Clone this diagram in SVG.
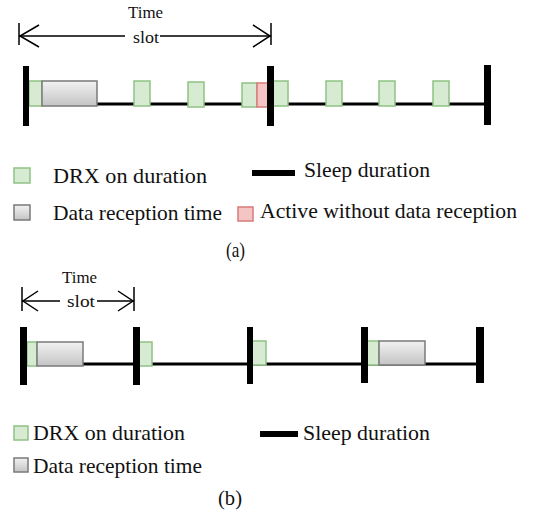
<svg xmlns="http://www.w3.org/2000/svg" width="534" height="515" viewBox="0 0 534 515">
<defs>
<linearGradient id="gg" x1="0" y1="0" x2="0" y2="1">
<stop offset="0" stop-color="#f2f2f2"/>
<stop offset="1" stop-color="#c4c4c4"/>
</linearGradient>
<style>
text{font-family:"Liberation Serif","DejaVu Serif","Times New Roman",serif;fill:#111}
.lg{font-size:21px}
.sm{font-size:17px}
.on{fill:#d6ebd2;stroke:#8fc283;stroke-width:1.5}
.dat{fill:url(#gg);stroke:#7a7a7a;stroke-width:1.5}
.act{fill:#f5c4c4;stroke:#d97b7b;stroke-width:1.5}
.bar{fill:#000}
.sl{stroke:#000;stroke-width:3;fill:none}
.ar{stroke:#000;stroke-width:1.5;fill:none}
</style>
</defs>
<rect width="534" height="515" fill="#fff"/>

<g id="slot-a">
<path class="ar" d="M19,23V45M271,23V45M19,36H125M160,36H271"/>
<polyline class="ar" points="39,25 20,36 39,47"/>
<polyline class="ar" points="253,25 270,36 253,47"/>
<text class="sm" font-family="Liberation Serif, serif" x="128" y="18" textLength="35" lengthAdjust="spacingAndGlyphs">Time</text>
<text class="sm" font-family="Liberation Serif, serif" x="133" y="43" textLength="26" lengthAdjust="spacingAndGlyphs">slot</text>
</g>

<g id="timeline-a">
<line class="sl" x1="26" y1="104" x2="487" y2="104"/>
<rect class="on" x="29" y="81" width="13" height="25"/>
<rect class="dat" x="42" y="81" width="55" height="25"/>
<rect class="on" x="134" y="81" width="16" height="25"/>
<rect class="on" x="188" y="82" width="16" height="25"/>
<rect class="on" x="242" y="83" width="15" height="24"/>
<rect class="act" x="257" y="83" width="12" height="24"/>
<rect class="on" x="272" y="81" width="16" height="25"/>
<rect class="on" x="326" y="81" width="16" height="25"/>
<rect class="on" x="379" y="81" width="16" height="25"/>
<rect class="on" x="433" y="81" width="16" height="25"/>
<rect class="bar" x="23" y="66" width="6" height="60"/>
<rect class="bar" x="267" y="66" width="7" height="60"/>
<rect class="bar" x="484" y="65" width="7" height="60"/>
</g>

<g id="legend-a">
<rect class="on" x="14" y="168" width="16" height="15"/>
<text class="lg" font-family="Liberation Serif, serif" x="53" y="183" textLength="154" lengthAdjust="spacingAndGlyphs">DRX on duration</text>
<rect class="bar" x="252" y="170" width="43" height="6"/>
<text class="lg" font-family="Liberation Serif, serif" x="304" y="177" textLength="126" lengthAdjust="spacingAndGlyphs">Sleep duration</text>
<rect class="dat" x="14" y="205" width="16" height="15"/>
<text class="lg" font-family="Liberation Serif, serif" x="53" y="220" textLength="169" lengthAdjust="spacingAndGlyphs">Data reception time</text>
<rect class="act" x="238" y="207" width="15" height="14"/>
<text class="lg" font-family="Liberation Serif, serif" x="260" y="218" textLength="257" lengthAdjust="spacingAndGlyphs">Active without data reception</text>
<text class="lg" font-family="Liberation Serif, serif" x="226" y="257" textLength="19" lengthAdjust="spacingAndGlyphs">(a)</text>
</g>

<g id="slot-b">
<path class="ar" d="M22,287V311M134,287V311M22,301H60M97,301H134"/>
<polyline class="ar" points="38,291 23,301 38,311"/>
<polyline class="ar" points="118,291 133,301 118,311"/>
<text class="sm" font-family="Liberation Serif, serif" x="62" y="283" textLength="35" lengthAdjust="spacingAndGlyphs">Time</text>
<text class="sm" font-family="Liberation Serif, serif" x="67" y="307" textLength="28" lengthAdjust="spacingAndGlyphs">slot</text>
</g>

<g id="timeline-b">
<line class="sl" x1="23" y1="364" x2="480" y2="364"/>
<rect class="on" x="27" y="342" width="10" height="24"/>
<rect class="dat" x="37" y="342" width="46" height="24"/>
<rect class="on" x="138" y="342" width="14" height="24"/>
<rect class="on" x="252" y="341" width="14" height="24"/>
<rect class="on" x="367" y="341" width="12" height="24"/>
<rect class="dat" x="379" y="341" width="46" height="24"/>
<rect class="bar" x="20" y="327" width="7" height="58"/>
<rect class="bar" x="133" y="327" width="7" height="58"/>
<rect class="bar" x="247" y="327" width="6" height="57"/>
<rect class="bar" x="361" y="327" width="7" height="56"/>
<rect class="bar" x="476" y="327" width="8" height="56"/>
</g>

<g id="legend-b">
<rect class="on" x="14" y="426" width="14" height="14"/>
<text class="lg" font-family="Liberation Serif, serif" x="33" y="440" textLength="152" lengthAdjust="spacingAndGlyphs">DRX on duration</text>
<rect class="bar" x="260" y="431" width="38" height="6"/>
<text class="lg" font-family="Liberation Serif, serif" x="303" y="440" textLength="127" lengthAdjust="spacingAndGlyphs">Sleep duration</text>
<rect class="dat" x="14" y="458" width="14" height="14"/>
<text class="lg" font-family="Liberation Serif, serif" x="33" y="473" textLength="169" lengthAdjust="spacingAndGlyphs">Data reception time</text>
<text class="lg" font-family="Liberation Serif, serif" x="218" y="505" textLength="24" lengthAdjust="spacingAndGlyphs">(b)</text>
</g>
</svg>
